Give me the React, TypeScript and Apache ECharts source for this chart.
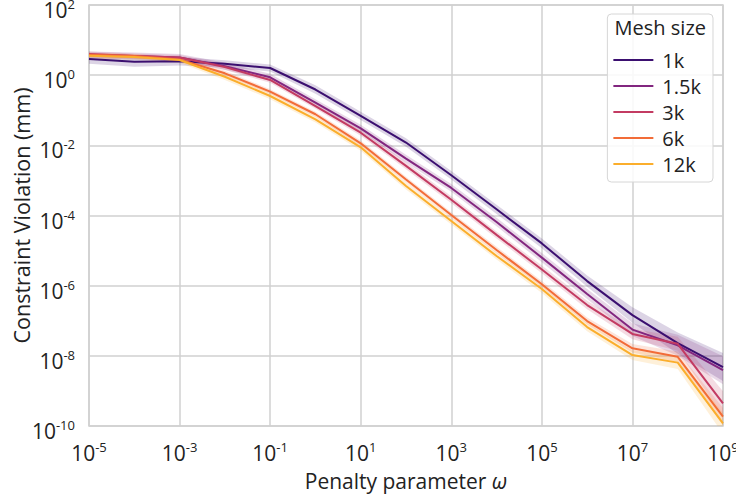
import React, { useEffect, useRef } from "react";
import * as echarts from "echarts";

const xValues = [1e-5, 1e-4, 1e-3, 1e-2, 1e-1, 1e0, 1e1, 1e2, 1e3, 1e4, 1e5, 1e6, 1e7, 1e8, 1e9];

const seriesNames = ["1k", "1.5k", "3k", "6k", "12k"];
const seriesColors = ["#3b0f70", "#82267f", "#c33b62", "#f26c38", "#fbae2c"];

const mesh1k = [2.9, 2.4, 2.5, 2.1, 1.6, 0.39, 0.069, 0.012, 1.4e-3, 1.5e-4, 1.6e-5, 1.35e-6, 1.45e-7, 2.3e-8, 4.8e-9];
const mesh1_5k = [3.75, 3.5, 3.2, 1.8, 0.87, 0.164, 0.0305, 4.2e-3, 6.1e-4, 6.5e-5, 6.3e-6, 5.8e-7, 5.6e-8, 2.0e-8, 3.9e-9];
const mesh3k = [4.0, 3.5, 3.2, 1.7, 0.73, 0.132, 0.0229, 2.6e-3, 2.8e-4, 2.8e-5, 2.9e-6, 2.8e-7, 4.2e-8, 2.2e-8, 4.4e-10];
const mesh6k = [3.8, 3.5, 2.8, 1.13, 0.34, 0.077, 0.0114, 1.06e-3, 1.03e-4, 1.04e-5, 1.1e-6, 9.8e-8, 1.64e-8, 9.4e-9, 1.84e-10];
const mesh12k = [3.6, 3.3, 2.7, 0.9, 0.255, 0.055, 8.8e-3, 6.9e-4, 7.0e-5, 7.0e-6, 8.0e-7, 6.6e-8, 1.05e-8, 6.4e-9, 1.19e-10];

// half-width of the shaded band, in decades
const spread1k = [0.14, 0.14, 0.12, 0.1, 0.1, 0.12, 0.12, 0.12, 0.12, 0.13, 0.14, 0.16, 0.22, 0.3, 0.4];
const spread1_5k = [0.1, 0.1, 0.1, 0.1, 0.1, 0.1, 0.1, 0.11, 0.11, 0.12, 0.13, 0.14, 0.18, 0.3, 0.4];
const spread3k = [0.07, 0.07, 0.07, 0.08, 0.08, 0.08, 0.09, 0.1, 0.1, 0.1, 0.11, 0.12, 0.15, 0.2, 0.35];
const spread6k = [0.06, 0.06, 0.06, 0.07, 0.07, 0.07, 0.08, 0.08, 0.08, 0.09, 0.09, 0.1, 0.12, 0.15, 0.25];
const spread12k = [0.08, 0.08, 0.08, 0.09, 0.09, 0.09, 0.1, 0.1, 0.1, 0.1, 0.11, 0.12, 0.14, 0.18, 0.3];

const allValues = [mesh1k, mesh1_5k, mesh3k, mesh6k, mesh12k];
const allSpreads = [spread1k, spread1_5k, spread3k, spread6k, spread12k];

const FONT = "Open Sans";

function supLabel(v: number) {
  const e = Math.round(Math.log10(v));
  return "{b|10}{s|" + e + "}";
}

export default function App() {
  const ref = useRef<HTMLDivElement>(null);
  useEffect(() => {
    if (!ref.current) return;
    const chart = echarts.init(ref.current, null, { renderer: "svg" });

    const bandSeries = allValues.map((vals, si) => {
      const spr = allSpreads[si];
      const data = vals.map((v, i) => [xValues[i], v / Math.pow(10, spr[i]), v * Math.pow(10, spr[i])]);
      return {
        type: "custom",
        name: seriesNames[si] + " band",
        coordinateSystem: "cartesian2d",
        silent: true,
        z: 1,
        clip: true,
        encode: { x: 0, y: [1, 2] },
        data,
        renderItem: (params: any, api: any) => {
          if (params.dataIndex !== 0) return null;
          const upper = data.map((d) => api.coord([d[0], d[2]]));
          const lower = data.map((d) => api.coord([d[0], d[1]])).reverse();
          return {
            type: "polygon",
            shape: { points: upper.concat(lower) },
            style: { fill: seriesColors[si], opacity: 0.18 },
          };
        },
      };
    });

    const lineSeries = allValues.map((vals, si) => ({
      type: "line",
      name: seriesNames[si],
      data: vals.map((v, i) => [xValues[i], v]),
      symbol: "none",
      showSymbol: false,
      z: 3,
      lineStyle: { color: seriesColors[si], width: 2 },
      itemStyle: { color: seriesColors[si] },
    }));

    const richLabel = {
      b: { fontSize: 21, fontFamily: FONT, color: "#222" },
      s: { fontSize: 13, fontFamily: FONT, color: "#222", verticalAlign: "top", padding: [0, 0, 12, 0] },
    };

    chart.setOption({
      animation: false,
      backgroundColor: "#fff",
      grid: {
        left: 89,
        right: 13,
        top: 5,
        bottom: 72,
        show: true,
        borderColor: "#d0d0d0",
        borderWidth: 1.5,
        containLabel: false,
        outerBoundsMode: "none",
      },
      xAxis: {
        type: "log",
        logBase: 10,
        min: 1e-5,
        max: 1e9,
        interval: 2,
        name: "{n|Penalty parameter }{i|ω}",
        nameLocation: "middle",
        nameGap: 44,
        nameMoveOverlap: false,
        nameTextStyle: {
          fontSize: 21,
          fontFamily: FONT,
          color: "#222",
          rich: {
            n: { fontSize: 21, fontFamily: FONT, color: "#222" },
            i: { fontSize: 21, fontFamily: FONT, color: "#222", fontStyle: "italic" },
          },
        },
        axisLine: { show: false },
        axisTick: { show: false },
        axisLabel: { formatter: supLabel, rich: richLabel, margin: 14 },
        splitLine: { show: true, lineStyle: { color: "#d0d0d0", width: 1.5 } },
        minorTick: { show: false },
      },
      yAxis: {
        type: "log",
        logBase: 10,
        min: 1e-10,
        max: 1e2,
        interval: 2,
        name: "Constraint Violation (mm)",
        nameLocation: "middle",
        nameGap: 57,
        nameMoveOverlap: false,
        nameTextStyle: { fontSize: 21.5, fontFamily: FONT, color: "#222" },
        axisLine: { show: false },
        axisTick: { show: false },
        axisLabel: { formatter: supLabel, rich: richLabel, margin: 14, padding: [10, 0, 0, 0] },
        splitLine: { show: true, lineStyle: { color: "#d0d0d0", width: 1.5 } },
      },
      legend: {
        data: seriesNames,
        orient: "vertical",
        right: 23,
        top: 14,
        padding: [36, 12, 8, 6],
        itemGap: 6,
        itemWidth: 40,
        itemHeight: 14,
        backgroundColor: "rgba(255,255,255,0.85)",
        borderColor: "#d6d6d6",
        borderWidth: 1,
        borderRadius: 4,
        textStyle: { fontSize: 20, fontFamily: FONT, color: "#222", padding: [0, 0, 0, 4] },
        icon: "path://M0,6 L40,6 L40,8 L0,8 Z",
      },
      graphic: [
        {
          type: "text",
          right: 30,
          top: 17,
          z: 100,
          style: { text: "Mesh size", fontSize: 20, fontFamily: FONT, fill: "#222" },
        },
      ],
      series: [...bandSeries, ...lineSeries],
    });

    return () => chart.dispose();
  }, []);

  return <div ref={ref} style={{ width: 736, height: 498, position: "absolute", left: 0, top: 0 }} />;
}
